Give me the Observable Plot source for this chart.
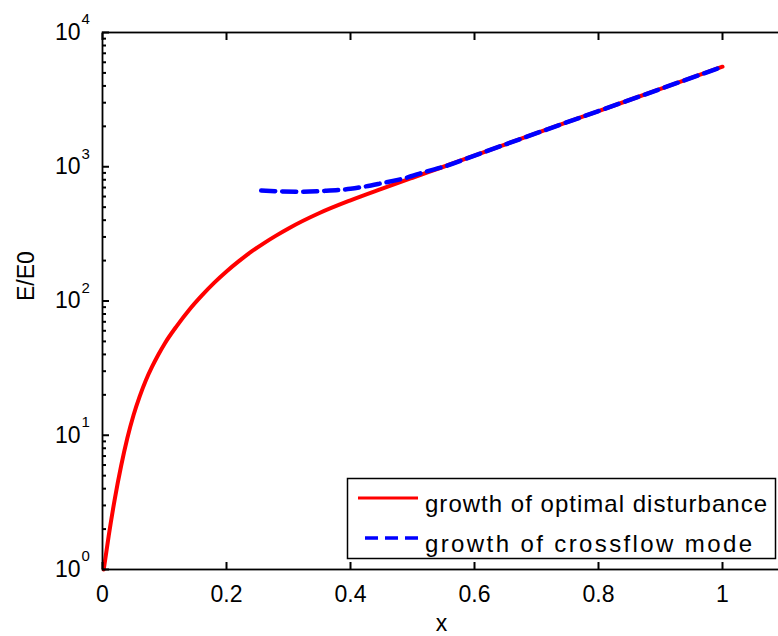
<!DOCTYPE html>
<html>
<head>
<meta charset="utf-8">
<script src="https://cdn.jsdelivr.net/npm/d3@7"></script>
<script src="https://cdn.jsdelivr.net/npm/@observablehq/plot@0.6"></script>
<style>
  html, body { margin: 0; padding: 0; background: #fff; overflow: hidden; }
  #wrap { position: relative; width: 778px; height: 636px; overflow: hidden; background: #fff; }
  #legend { position: absolute; left: 0; top: 0; pointer-events: none; }
</style>
</head>
<body>
<div id="wrap"></div>
<script>
// ---- data ----
const optimalX = [0.002, 0.01, 0.02, 0.03, 0.04, 0.05, 0.06, 0.07, 0.08, 0.09, 0.10, 0.12, 0.14, 0.16, 0.18, 0.20, 0.22, 0.24, 0.26, 0.28, 0.30, 0.35, 0.40, 0.45, 0.50, 0.55, 0.60, 0.70, 0.80, 0.90, 1.00];
const optimalE = [1, 1.78, 3.39, 5.9, 9.5, 14.1, 19.5, 25.7, 32.4, 39.8, 47.9, 65.3, 86.1, 109.6, 136.5, 166, 198, 233, 269, 307, 347, 452, 562, 684, 828, 1000, 1211, 1778, 2600, 3800, 5560];
const crossflowX = [0.256, 0.290, 0.324, 0.360, 0.400, 0.448, 0.491, 0.520, 0.550, 0.600, 0.700, 0.800, 0.900, 1.000];
const crossflowE = [665, 655, 652, 662, 685, 750, 830, 915, 1000, 1211, 1778, 2600, 3800, 5560];

const seriesNames = ["growth of optimal disturbance", "growth of crossflow mode"];
const seriesColors = ["#ff0000", "#0000ff"];

const xTicks = [0, 0.2, 0.4, 0.6, 0.8, 1];
const xTickLabels = ["0", "0.2", "0.4", "0.6", "0.8", "1"];
const yMajor = [1, 10, 100, 1000, 10000];
const yExponents = ["0", "1", "2", "3", "4"];
const yMinor = [2, 3, 4, 5, 6, 7, 8, 9,
                20, 30, 40, 50, 60, 70, 80, 90,
                200, 300, 400, 500, 600, 700, 800, 900,
                2000, 3000, 4000, 5000, 6000, 7000, 8000, 9000];
const xLabel = "x";
const yLabel = "E/E0";

// ---- build ----
const optimal = optimalX.map((x, i) => ({x, e: optimalE[i]}));
const crossflow = crossflowX.map((x, i) => ({x, e: crossflowE[i]}));
const FONT = "'Liberation Sans', Arial, Helvetica, sans-serif";

// inward ticks: ordinary outward axis ticks shifted inside the frame by their own length
const tickBase = {tickFormat: () => "", label: null, stroke: "black", strokeWidth: 2};
const inTicksX = (anchor, ticks, size) =>
  Plot.axisX({...tickBase, anchor, ticks, tickSize: size, dy: anchor === "bottom" ? -size : size});
const inTicksY = (anchor, ticks, size) =>
  Plot.axisY({...tickBase, anchor, ticks, tickSize: size, dx: anchor === "left" ? size : -size});

const chart = Plot.plot({
  width: 786,
  height: 636,
  marginLeft: 102,
  marginRight: 2,
  marginTop: 32,
  marginBottom: 67,
  style: {fontFamily: FONT, fontSize: "23px", background: "white", maxWidth: "none"},
  x: {domain: [0, 1.1]},
  y: {type: "log", domain: [1, 10000]},
  marks: [
    Plot.line(optimal, {x: "x", y: "e", stroke: seriesColors[0], strokeWidth: 4, curve: "monotone-x"}),
    Plot.line(crossflow, {x: "x", y: "e", stroke: seriesColors[1], strokeWidth: 4.5, strokeDasharray: "14,7", curve: "monotone-x"}),
    Plot.frame({stroke: "black", strokeWidth: 1.8}),
    inTicksX("bottom", xTicks, 7),
    inTicksX("top", xTicks, 7),
    inTicksY("left", yMajor, 7),
    inTicksY("left", yMinor, 4),
    inTicksY("right", yMajor, 7),
    inTicksY("right", yMinor, 4),
    Plot.text(xTicks, {x: d => d, frameAnchor: "bottom", text: (d, i) => xTickLabels[i], lineAnchor: "top", dy: 16, fontSize: 23, fill: "black"}),
    Plot.text(yMajor, {y: d => d, frameAnchor: "left", text: () => "10", textAnchor: "end", dx: -22, fontSize: 23, fill: "black"}),
    Plot.text(yMajor, {y: d => d, frameAnchor: "left", text: (d, i) => yExponents[i], textAnchor: "start", dx: -21, dy: -13, fontSize: 15, fill: "black"}),
    Plot.text([yLabel], {frameAnchor: "left", text: d => d, rotate: -90, dx: -76, fontSize: 23, fill: "black"}),
    Plot.text([xLabel], {frameAnchor: "bottom", text: d => d, lineAnchor: "top", dy: 45, dx: -2, fontSize: 23, fill: "black"})
  ]
});

const wrap = document.getElementById("wrap");
wrap.appendChild(chart);

// ---- legend ----
const svg = d3.select(wrap).append("svg")
  .attr("id", "legend")
  .attr("width", 778)
  .attr("height", 636);
svg.append("rect")
  .attr("x", 347.5).attr("y", 478.5)
  .attr("width", 428).attr("height", 80)
  .attr("fill", "white").attr("stroke", "black").attr("stroke-width", 1.5);
const legendTextWidths = [342, 327];
seriesNames.forEach((name, i) => {
  const cy = 498 + i * 40;
  svg.append("line")
    .attr("x1", i === 0 ? 358 : 365).attr("x2", 418)
    .attr("y1", cy).attr("y2", cy)
    .attr("stroke", seriesColors[i])
    .attr("stroke-width", i === 0 ? 3 : 3.5)
    .attr("stroke-dasharray", i === 0 ? null : "13,7");
  svg.append("text")
    .attr("x", 425).attr("y", cy + 14)
    .attr("font-family", FONT)
    .attr("font-size", 24)
    .attr("textLength", legendTextWidths[i])
    .attr("lengthAdjust", "spacing")
    .attr("fill", "black")
    .text(name);
});
</script>
</body>
</html>
